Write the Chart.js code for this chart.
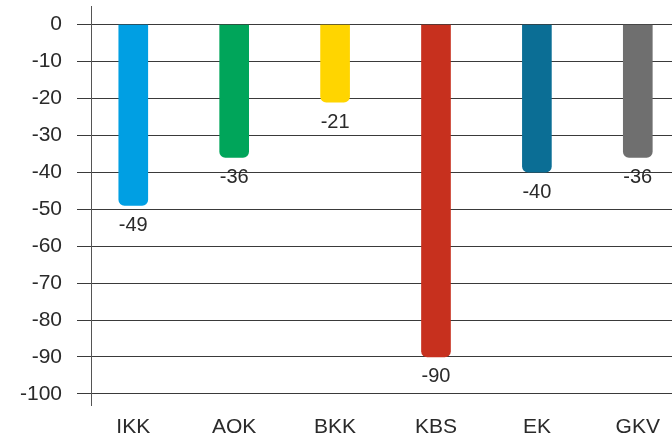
<!DOCTYPE html>
<html>
<head>
<meta charset="utf-8">
<script src="https://cdn.jsdelivr.net/npm/chart.js@4"></script>
<style>
  html, body { margin: 0; padding: 0; background: #fff; }
  #wrap { width: 672px; height: 438px; }
</style>
</head>
<body>
<div id="wrap"><canvas id="kassenChart"></canvas></div>
<script>
const categories = ['IKK', 'AOK', 'BKK', 'KBS', 'EK', 'GKV'];
const values = [-49, -36, -21, -90, -40, -36];
const barColors = ['#009fe3', '#00a55a', '#ffd500', '#c7301e', '#0b6e95', '#6f6f6f'];
const yTicks = [0, -10, -20, -30, -40, -50, -60, -70, -80, -90, -100];

const fontFamily = '"Liberation Sans", Arial, Helvetica, sans-serif';
const textColor = '#2a2a2a';

// value labels under each bar
const valueLabels = {
    id: 'valueLabels',
    afterDatasetsDraw(chart) {
        const ctx = chart.ctx;
        const meta = chart.getDatasetMeta(0);
        ctx.save();
        ctx.font = '20px ' + fontFamily;
        ctx.fillStyle = textColor;
        ctx.textAlign = 'center';
        ctx.textBaseline = 'middle';
        meta.data.forEach((bar, i) => {
            ctx.fillText(String(values[i]), bar.x, bar.y + 20);
        });
        ctx.restore();
    }
};

const ctx = document.getElementById('kassenChart').getContext('2d');
const chart = new Chart(ctx, {
    type: 'bar',
    data: {
        datasets: [{
            data: values.map((v, i) => ({ x: i, y: v })),
            backgroundColor: barColors,
            borderWidth: 0,
            borderRadius: 6,
            barThickness: 29
        }]
    },
    options: {
        responsive: true,
        maintainAspectRatio: false,
        animation: false,
        layout: {
            padding: { top: 6, left: 0, right: 0, bottom: 0 }
        },
        plugins: {
            legend: { display: false },
            tooltip: { enabled: false }
        },
        scales: {
            x: {
                type: 'linear',
                offset: false,
                bounds: 'data',
                min: -0.419,
                max: 5.339,
                afterBuildTicks: axis => {
                    axis.ticks = categories.map((c, i) => ({ value: i }));
                },
                afterFit: axis => {
                    axis.height = 33;
                    axis.paddingLeft = 0;
                    axis.paddingRight = 0;
                },
                ticks: {
                    autoSkip: false,
                    maxRotation: 0,
                    padding: 10,
                    color: textColor,
                    font: { family: fontFamily, size: 21 },
                    callback: v => categories[v]
                },
                grid: { display: false, drawTicks: false, offset: false },
                border: { display: false }
            },
            y: {
                min: -103,
                max: 5,
                afterBuildTicks: axis => {
                    axis.ticks = yTicks.map(v => ({ value: v }));
                },
                afterFit: axis => {
                    axis.width = 91;
                    axis.paddingTop = 0;
                    axis.paddingBottom = 0;
                },
                ticks: {
                    padding: 15,
                    color: textColor,
                    font: { family: fontFamily, size: 21 }
                },
                grid: {
                    color: '#3a3a3a',
                    lineWidth: 1,
                    tickLength: 14
                },
                border: { display: true, color: '#555555', width: 1 }
            }
        }
    },
    plugins: [valueLabels]
});
</script>
</body>
</html>
